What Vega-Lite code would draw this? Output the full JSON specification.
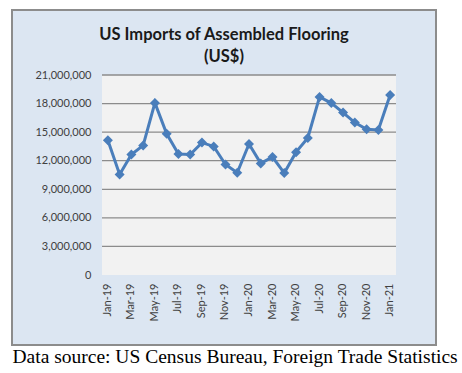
{
  "$schema": "https://vega.github.io/schema/vega-lite/v6.json",
  "width": 424,
  "height": 335,
  "autosize": {"type": "none"},
  "padding": {"left": 12, "top": 10, "right": 26, "bottom": 28},
  "background": "white",
  "config": {
    "view": {"fill": "#dce6f2", "stroke": "#8c8c8c", "strokeWidth": 2},
    "font": "Lato"
  },
  "title": {
    "text": ["US Imports of Assembled Flooring", "(US$)"],
    "font": "Lato",
    "fontSize": 16.5,
    "fontWeight": "bold",
    "color": "#1a1a1a",
    "anchor": "middle",
    "frame": "group",
    "offset": -55,
    "lineHeight": 22
  },
  "datasets": {
    "imports": [
      {"month": "Jan-19", "value": 14140000},
      {"month": "Feb-19", "value": 10550000},
      {"month": "Mar-19", "value": 12650000},
      {"month": "Apr-19", "value": 13600000},
      {"month": "May-19", "value": 18070000},
      {"month": "Jun-19", "value": 14820000},
      {"month": "Jul-19", "value": 12700000},
      {"month": "Aug-19", "value": 12650000},
      {"month": "Sep-19", "value": 13900000},
      {"month": "Oct-19", "value": 13500000},
      {"month": "Nov-19", "value": 11600000},
      {"month": "Dec-19", "value": 10730000},
      {"month": "Jan-20", "value": 13750000},
      {"month": "Feb-20", "value": 11720000},
      {"month": "Mar-20", "value": 12390000},
      {"month": "Apr-20", "value": 10700000},
      {"month": "May-20", "value": 12900000},
      {"month": "Jun-20", "value": 14390000},
      {"month": "Jul-20", "value": 18700000},
      {"month": "Aug-20", "value": 18050000},
      {"month": "Sep-20", "value": 17050000},
      {"month": "Oct-20", "value": 16000000},
      {"month": "Nov-20", "value": 15300000},
      {"month": "Dec-20", "value": 15220000},
      {"month": "Jan-21", "value": 18900000}
    ],
    "plotarea": [{"month": "Jan-19", "month_end": "Jan-21", "value": 0, "value_end": 21000000}],
    "gridlines": [
      {"month": "Jan-19", "month_end": "Jan-21", "value": 3000000},
      {"month": "Jan-19", "month_end": "Jan-21", "value": 6000000},
      {"month": "Jan-19", "month_end": "Jan-21", "value": 9000000},
      {"month": "Jan-19", "month_end": "Jan-21", "value": 12000000},
      {"month": "Jan-19", "month_end": "Jan-21", "value": 15000000},
      {"month": "Jan-19", "month_end": "Jan-21", "value": 18000000},
      {"month": "Jan-19", "month_end": "Jan-21", "value": 21000000}
    ]
  },
  "layer": [
    {
      "data": {"name": "plotarea"},
      "mark": {"type": "rect", "fill": "#f2f2f2"},
      "encoding": {
        "x": {"field": "month", "type": "ordinal", "bandPosition": 0, "title": "Data source: US Census Bureau, Foreign Trade Statistics"},
        "x2": {"field": "month_end", "bandPosition": 1},
        "y": {"field": "value", "type": "quantitative", "title": null},
        "y2": {"field": "value_end"}
      }
    },
    {
      "data": {"name": "gridlines"},
      "mark": {"type": "rect", "fill": "#8c8c8c", "stroke": "#8c8c8c", "strokeWidth": 1.3},
      "encoding": {
        "x": {"field": "month", "type": "ordinal", "bandPosition": 0, "title": "Data source: US Census Bureau, Foreign Trade Statistics"},
        "x2": {"field": "month_end", "bandPosition": 1},
        "y": {"field": "value", "type": "quantitative", "title": null},
        "y2": {"field": "value"}
      }
    },
    {
      "data": {"name": "imports"},
      "mark": {"type": "line", "color": "#4a7ebb", "strokeWidth": 3},
      "encoding": {
        "x": {
          "field": "month", "type": "ordinal", "sort": null,
          "scale": {"type": "band", "domain": ["Jan-19","Feb-19","Mar-19","Apr-19","May-19","Jun-19","Jul-19","Aug-19","Sep-19","Oct-19","Nov-19","Dec-19","Jan-20","Feb-20","Mar-20","Apr-20","May-20","Jun-20","Jul-20","Aug-20","Sep-20","Oct-20","Nov-20","Dec-20","Jan-21"], "range": [90, 384], "paddingInner": 0, "paddingOuter": 0},
          "title": "Data source: US Census Bureau, Foreign Trade Statistics",
          "axis": {
            "values": ["Jan-19","Mar-19","May-19","Jul-19","Sep-19","Nov-19","Jan-20","Mar-20","May-20","Jul-20","Sep-20","Nov-20","Jan-21"],
            "offset": -70,
            "domain": false,
            "ticks": false,
            "grid": false,
            "labelAngle": 270,
            "labelAlign": "right",
            "labelBaseline": "middle",
            "labelPadding": 8,
            "labelFont": "Lato",
            "labelFontSize": 11,
            "labelColor": "#404040",
            "titleFont": "Liberation Serif",
            "titleFontSize": 19.5,
            "titleFontWeight": "normal",
            "titleColor": "#000000",
            "titleAlign": "left",
            "titleAnchor": "start",
            "titleBaseline": "alphabetic",
            "titleX": 0,
            "titleY": 87
          }
        },
        "y": {
          "field": "value", "type": "quantitative",
          "scale": {"domain": [0, 21000000], "range": [265, 65], "nice": false, "zero": true},
          "title": null,
          "axis": {
            "values": [0, 3000000, 6000000, 9000000, 12000000, 15000000, 18000000, 21000000],
            "labelExpr": "format(datum.value, ',')",
            "offset": -90,
            "domain": false,
            "ticks": false,
            "grid": false,
            "labelPadding": 11,
            "labelFont": "Lato",
            "labelFontSize": 11,
            "labelColor": "#404040"
          }
        }
      }
    },
    {
      "data": {"name": "imports"},
      "mark": {"type": "point", "shape": "diamond", "filled": true, "size": 100, "color": "#4a7ebb", "opacity": 1},
      "encoding": {
        "x": {"field": "month", "type": "ordinal", "sort": null, "title": "Data source: US Census Bureau, Foreign Trade Statistics"},
        "y": {"field": "value", "type": "quantitative", "title": null}
      }
    }
  ]
}
